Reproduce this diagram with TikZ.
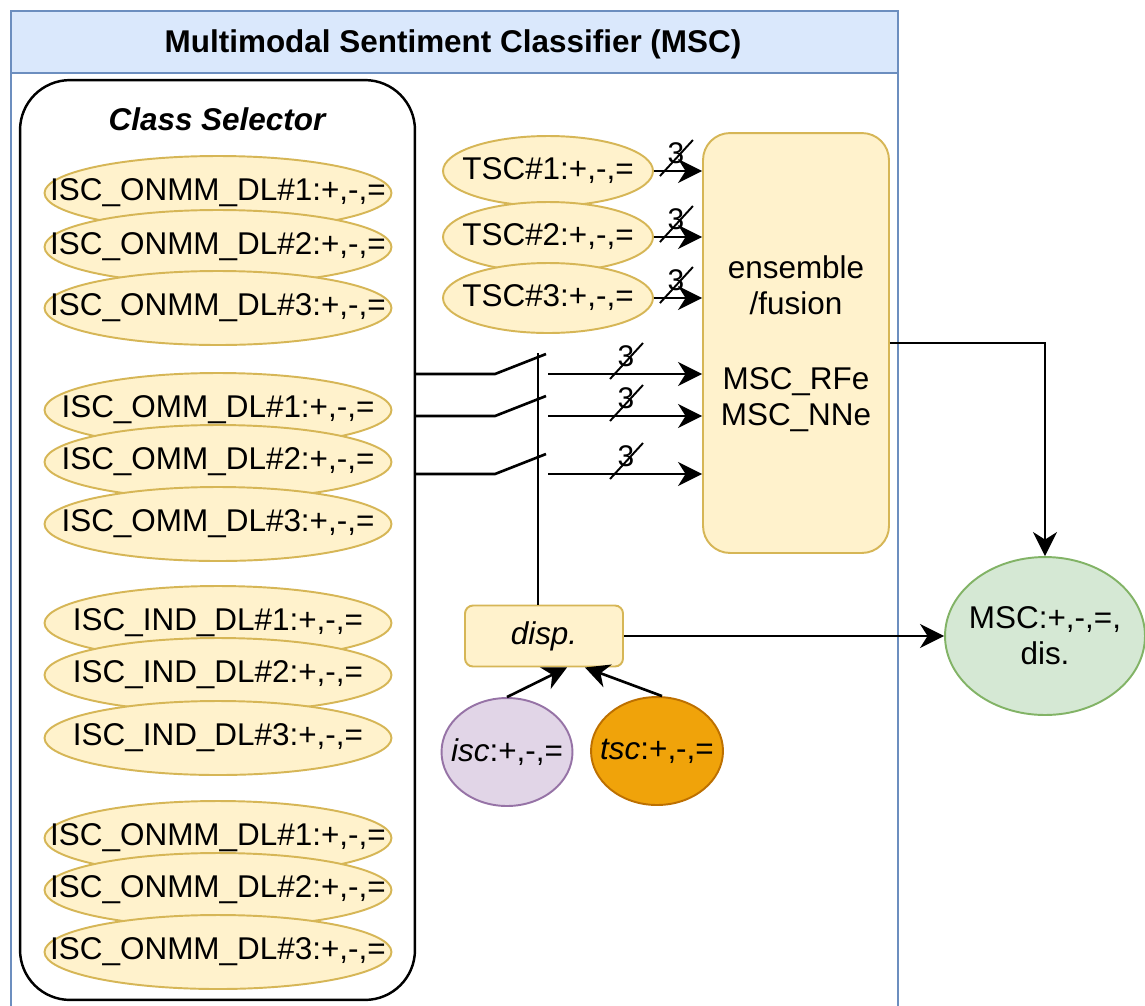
\documentclass[tikz,border=0pt]{standalone}
\usepackage{fontspec}
\setmainfont{Liberation Sans}
\usetikzlibrary{arrows.meta,shapes.geometric}

\definecolor{ylwfill}{HTML}{FFF2CC}
\definecolor{ylwline}{HTML}{D6B656}
\definecolor{bluefill}{HTML}{DAE8FC}
\definecolor{blueline}{HTML}{6C8EBF}
\definecolor{grnfill}{HTML}{D5E8D4}
\definecolor{grnline}{HTML}{82B366}
\definecolor{purfill}{HTML}{E1D5E7}
\definecolor{purline}{HTML}{9673A6}
\definecolor{orgfill}{HTML}{F0A30A}
\definecolor{orgline}{HTML}{BD7000}

\tikzset{
  txt/.style={inner sep=0, align=center, font=\fontsize{17.9}{20.5}\selectfont},
  lane/.style={draw=blueline, line width=1.2pt, fill=white, anchor=north west,
    minimum width=17.74cm, minimum height=20.4cm, inner sep=0},
  lanehead/.style={draw=blueline, line width=1.2pt, fill=bluefill, anchor=north west,
    minimum width=17.74cm, minimum height=1.24cm, inner sep=0},
  selector/.style={draw=black, line width=1.4pt, rounded corners=1cm,
    minimum width=7.9cm, minimum height=18.4cm, inner sep=0},
  iscell/.style={ellipse, draw=ylwline, fill=ylwfill, line width=1.1pt,
    minimum width=6.94cm, minimum height=1.48cm, inner sep=0},
  tscell/.style={ellipse, draw=ylwline, fill=ylwfill, line width=1.1pt,
    minimum width=4.2cm, minimum height=1.4cm, inner sep=0},
  fusebox/.style={draw=ylwline, fill=ylwfill, line width=1.1pt, rounded corners=0.54cm,
    minimum width=3.72cm, minimum height=8.4cm, inner sep=0},
  dispbox/.style={draw=ylwline, fill=ylwfill, line width=1.1pt, rounded corners=0.16cm,
    minimum width=3.16cm, minimum height=1.22cm, inner sep=0,
    font=\fontsize{17.9}{20.5}\selectfont\itshape},
  wire/.style={line width=1.5pt, draw=black},
  arr/.style={line width=1.5pt, draw=black, -{Stealth[length=0.48cm,width=0.48cm,inset=0.15cm]}},
  buswidth/.pic={
    \draw[line width=1.1pt] (-4,5) -- (29,-31);
    \node[inner sep=0, font=\fontsize{17}{18}\selectfont] at (12,-18) {3};
  }
}

\begin{document}
\begin{tikzpicture}[x=0.02cm, y=-0.02cm]
\useasboundingbox (0,0) rectangle (1145,1005);
\clip (0,0) rectangle (1145,1005);

% container with its title bar
\node[lane] (lane) at (10,10) {};
\node[lanehead] (head) at (10,10) {};
\node[txt, font=\fontsize{17.9}{20.5}\selectfont\bfseries] (title) at (453,44)
  {Multimodal Sentiment Classifier (MSC)};

% class selector with the image sentiment classifiers
\node[selector] (cs) at (217.5,540) {};
\node[txt, font=\fontsize{17.9}{20.5}\selectfont\bfseries\itshape] (cstitle) at (217,119) {Class Selector};

\node[iscell] (a1) at (218,193) {}; \node[txt] at (a1) {ISC\_ONMM\_DL\#1:+,-,=};
\node[iscell] (a2) at (218,247) {}; \node[txt] at (a2) {ISC\_ONMM\_DL\#2:+,-,=};
\node[iscell] (a3) at (218,308) {}; \node[txt] at (a3) {ISC\_ONMM\_DL\#3:+,-,=};

\node[iscell] (b1) at (218,410) {}; \node[txt] at (b1) {ISC\_OMM\_DL\#1:+,-,=};
\node[iscell] (b2) at (218,462) {}; \node[txt] at (b2) {ISC\_OMM\_DL\#2:+,-,=};
\node[iscell] (b3) at (218,524) {}; \node[txt] at (b3) {ISC\_OMM\_DL\#3:+,-,=};

\node[iscell] (c1) at (218,623) {}; \node[txt] at (c1) {ISC\_IND\_DL\#1:+,-,=};
\node[iscell] (c2) at (218,675) {}; \node[txt] at (c2) {ISC\_IND\_DL\#2:+,-,=};
\node[iscell] (c3) at (218,738) {}; \node[txt] at (c3) {ISC\_IND\_DL\#3:+,-,=};

\node[iscell] (d1) at (218,838) {}; \node[txt] at (d1) {ISC\_ONMM\_DL\#1:+,-,=};
\node[iscell] (d2) at (218,890) {}; \node[txt] at (d2) {ISC\_ONMM\_DL\#2:+,-,=};
\node[iscell] (d3) at (218,952) {}; \node[txt] at (d3) {ISC\_ONMM\_DL\#3:+,-,=};

% ensemble / fusion block
\node[fusebox] (fuse) at (796,343) {};
\node[txt] (fusetop) at (796,285) {ensemble\\/fusion};
\node[txt] (fusebot) at (796,400) {MSC\_RFe\\MSC\_NNe};

% text sentiment classifiers
\node[tscell] (t1) at (548,171) {}; \node[txt] at (t1) {TSC\#1:+,-,=};
\node[tscell] (t2) at (548,237) {}; \node[txt] at (t2) {TSC\#2:+,-,=};
\node[tscell] (t3) at (548,298) {}; \node[txt] at (t3) {TSC\#3:+,-,=};

\foreach \n in {t1,t2,t3}{
  \draw[arr] (\n.east) -- (\n.east -| fuse.west);
  \path (\n.east) ++(10,0) pic {buswidth};
}

% dispatcher, its inputs and the output class
\node[dispbox] (disp) at (544,636) {disp.};
\node[ellipse, draw=purline, fill=purfill, line width=1.1pt, minimum width=2.62cm,
  minimum height=2.16cm, inner sep=0] (isc) at (507,752) {};
\node[txt] at (isc) {\textit{isc}:+,-,=};
\node[ellipse, draw=orgline, fill=orgfill, line width=1.1pt, minimum width=2.64cm,
  minimum height=2.16cm, inner sep=0] (tsc) at (657,751) {};
\node[txt] at (tsc) {\textit{tsc}:+,-,=};
\node[ellipse, draw=grnline, fill=grnfill, line width=1.1pt, minimum width=4cm,
  minimum height=3.16cm, inner sep=0] (msc) at (1045,636) {};
\node[txt] at (msc) {MSC:+,-,=,\\dis.};

\draw[arr] (isc.north) -- ([xshift=0.46cm]disp.south);
\draw[arr] ([xshift=0.1cm]tsc.north) -- ([xshift=0.82cm]disp.south);
\draw[arr] (disp.east) -- (msc.west);

\coordinate (bend) at (1045,343);
\draw[arr] (fuse.east |- bend) -- (bend) -- (msc.north);

% switches between the class selector and the fusion block
\coordinate (bar) at (538,353);
\draw[wire] (bar) -- (bar |- disp.north);

\coordinate (k1) at (495,374); \coordinate (h1) at (546,354); \coordinate (o1) at (548,374);
\coordinate (k2) at (495,416); \coordinate (h2) at (546,396); \coordinate (o2) at (548,416);
\coordinate (k3) at (495,474); \coordinate (h3) at (546,454); \coordinate (o3) at (548,474);

\foreach \i in {1,2,3}{
  \draw[wire] (cs.east |- k\i) -- (k\i) -- (h\i);
  \draw[arr] (o\i) -- (o\i -| fuse.west);
  \path (o\i) ++(66,0) pic {buswidth};
}
\end{tikzpicture}
\end{document}
